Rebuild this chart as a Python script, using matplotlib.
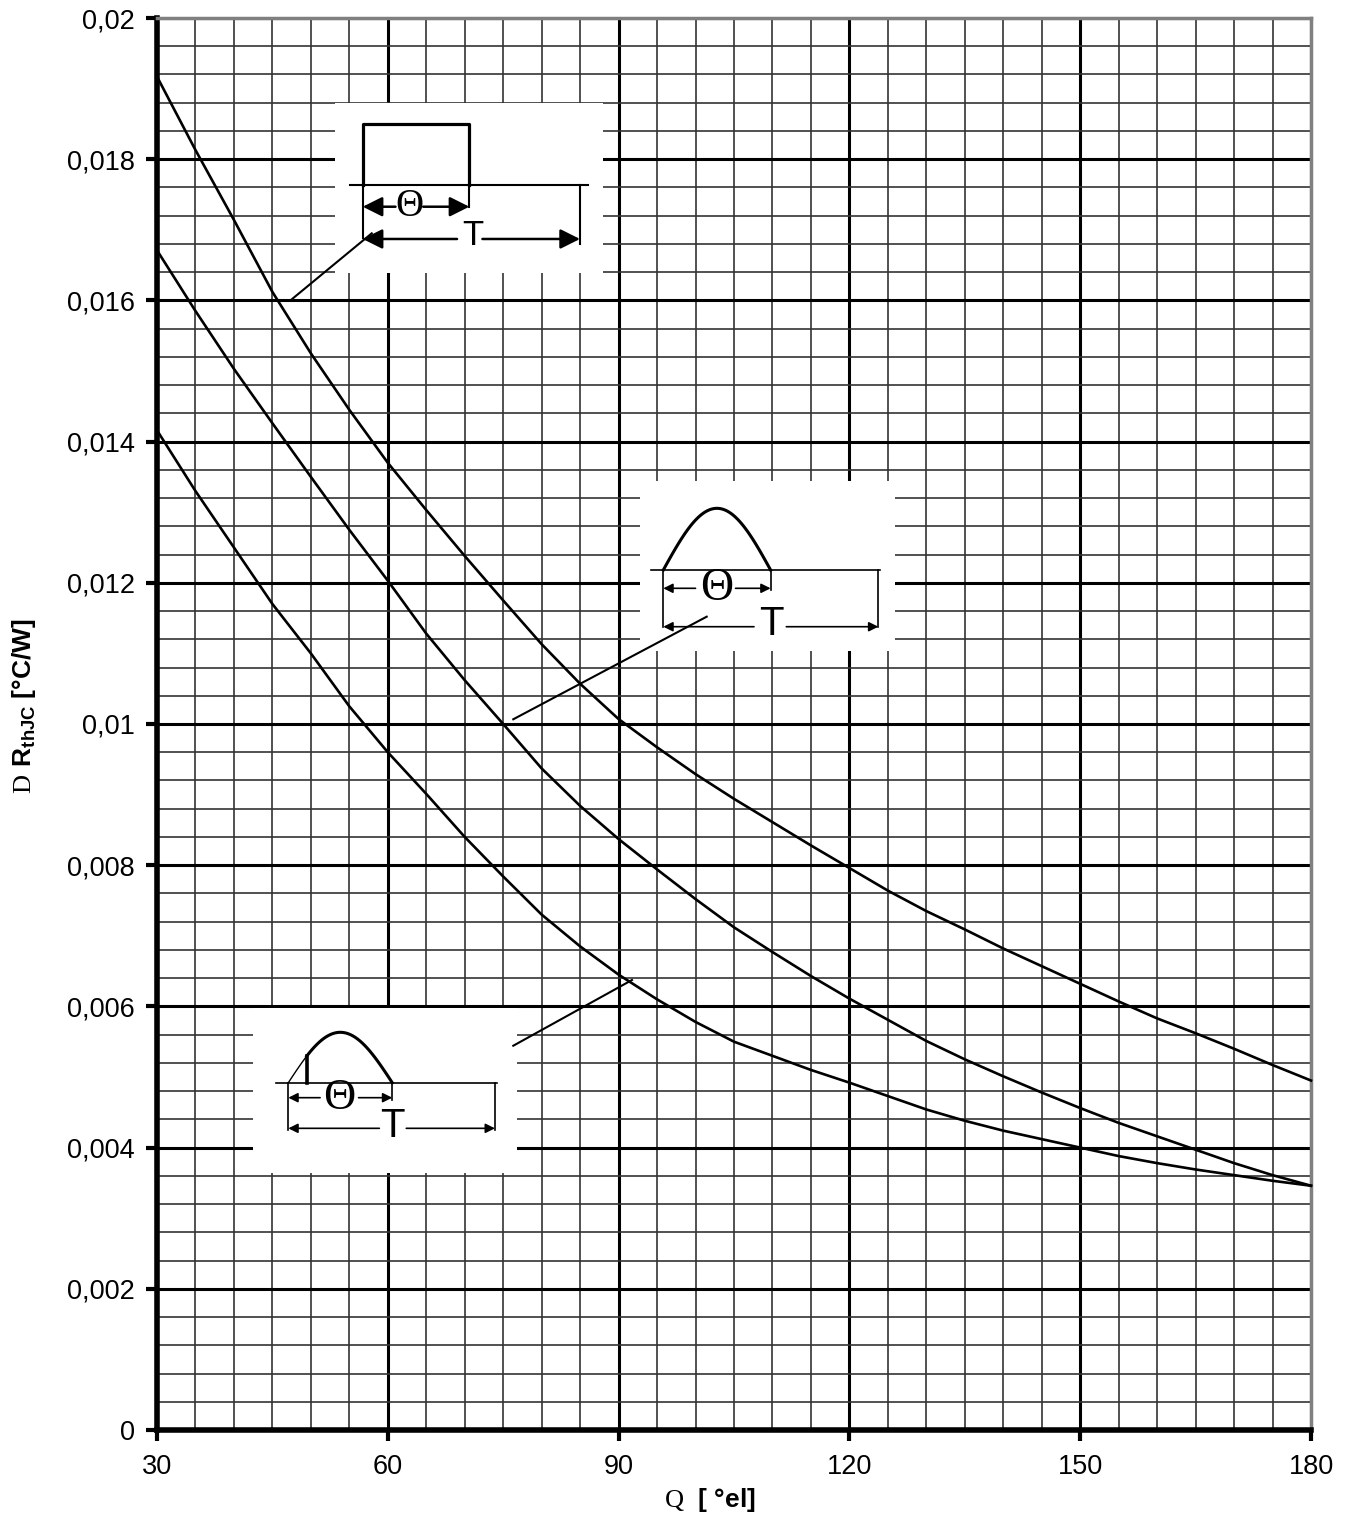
import numpy as np
import matplotlib
matplotlib.use("Agg")
import matplotlib.pyplot as plt
from matplotlib.patches import Rectangle
from matplotlib.ticker import FixedLocator, MultipleLocator, FixedFormatter

plt.rcParams["font.family"] = ["Liberation Sans", "DejaVu Sans"]
plt.rcParams["mathtext.fontset"] = "custom"
plt.rcParams["mathtext.rm"] = "Liberation Serif"
plt.rcParams["mathtext.bf"] = "Liberation Sans:bold"

# conduction angle [deg el]
theta = [30, 35, 40, 45, 50, 55, 60, 65, 70, 75, 80, 85, 90, 95, 100, 105,
         110, 115, 120, 125, 130, 135, 140, 145, 150, 155, 160, 165, 170, 175, 180]

# rectangular current
rth_rect = [0.01917, 0.01813, 0.01714, 0.01612, 0.01525, 0.01445, 0.0137, 0.01303,
            0.01238, 0.01175, 0.01113, 0.01057, 0.01007, 0.00967, 0.00929, 0.00894,
            0.00861, 0.00828, 0.00796, 0.00764, 0.00735, 0.00709, 0.00682, 0.00657,
            0.00632, 0.00607, 0.00583, 0.00562, 0.0054, 0.00517, 0.00495]
# sinusoidal current
rth_sine = [0.01671, 0.01585, 0.01503, 0.01426, 0.0135, 0.01275, 0.01203, 0.01128,
            0.01062, 0.0100, 0.00937, 0.00884, 0.00837, 0.00794, 0.00752, 0.00712,
            0.00677, 0.00643, 0.00611, 0.00581, 0.00551, 0.00525, 0.00501, 0.00478,
            0.00456, 0.00435, 0.00416, 0.00397, 0.00378, 0.00361, 0.00346]
# phase controlled sine
rth_phase = [0.01416, 0.0133, 0.0125, 0.0117, 0.0110, 0.01025, 0.0096, 0.00901,
             0.0084, 0.00784, 0.0073, 0.00685, 0.00645, 0.0061, 0.00578, 0.0055,
             0.0053, 0.0051, 0.00492, 0.00473, 0.00454, 0.00438, 0.00424, 0.00412,
             0.0040, 0.00388, 0.00378, 0.00369, 0.00361, 0.00353, 0.00346]

x_ticks = [30, 60, 90, 120, 150, 180]
y_ticks = [0, 0.002, 0.004, 0.006, 0.008, 0.01, 0.012, 0.014, 0.016, 0.018, 0.02]
y_labels = ["0", "0,002", "0,004", "0,006", "0,008", "0,01", "0,012",
            "0,014", "0,016", "0,018", "0,02"]

fig = plt.figure(figsize=(13.53, 15.33), dpi=100)
ax = fig.add_axes([157 / 1353, 1 - 1430 / 1533, 1154 / 1353, 1412 / 1533])

ax.set_xlim(30, 180)
ax.set_ylim(0, 0.02)
ax.xaxis.set_major_locator(FixedLocator(x_ticks))
ax.xaxis.set_minor_locator(MultipleLocator(5))
ax.yaxis.set_major_locator(FixedLocator(y_ticks))
ax.yaxis.set_major_formatter(FixedFormatter(y_labels))
ax.yaxis.set_minor_locator(MultipleLocator(0.0004))
ax.set_axisbelow(True)
ax.grid(which="major", color="black", lw=2.2)
ax.grid(which="minor", color="#333333", lw=1.2)

ax.tick_params(which="major", direction="out", length=8, width=3,
               labelsize=19.5, color="black")
ax.tick_params(axis="x", which="major", pad=9)
ax.tick_params(axis="y", which="major", pad=8)
ax.tick_params(which="minor", length=0)
ax.tick_params(top=False, right=False)

for side in ["left", "bottom"]:
    ax.spines[side].set_linewidth(4)
    ax.spines[side].set_color("black")
for side in ["top", "right"]:
    ax.spines[side].set_linewidth(2.5)
    ax.spines[side].set_color("#808080")

for series in [rth_rect, rth_sine, rth_phase]:
    ax.plot(theta, series, color="black", lw=1.9, zorder=4, clip_on=False)


def dim_arrow(x0, x1, y, gap0, gap1, scale, lw):
    for tip, tail in [(x0, gap0), (x1, gap1)]:
        ax.annotate("", xy=(tip, y), xytext=(tail, y),
                    arrowprops=dict(arrowstyle="-|>", color="black", lw=lw,
                                    mutation_scale=scale, shrinkA=0, shrinkB=0),
                    zorder=5)


# inset 1: rectangular pulse
ax.add_patch(Rectangle((53.1, 0.01639), 34.9, 0.00241, facecolor="white",
                       edgecolor="none", zorder=1))
ax.plot([56.74, 56.74, 70.6, 70.6], [0.017635, 0.018494, 0.018494, 0.017635],
        color="black", lw=2.3, zorder=5)
ax.plot([55.09, 85.98], [0.017635, 0.017635], color="black", lw=1.5, zorder=5)
ax.plot([56.74, 56.74], [0.017635, 0.01688], color="black", lw=1.5, zorder=5)
ax.plot([70.6, 70.6], [0.017635, 0.01732], color="black", lw=1.5, zorder=5)
ax.plot([84.98, 84.98], [0.017635, 0.0168], color="black", lw=1.5, zorder=5)
dim_arrow(56.74, 70.6, 0.017327, 61.0, 64.6, 30, 1.8)
dim_arrow(56.74, 84.98, 0.01687, 69.0, 72.3, 30, 1.8)
ax.text(62.8, 0.017327, "\u0398", fontsize=28, family="Liberation Serif",
        ha="center", va="center", zorder=5)
ax.text(71.1, 0.01692, "T", fontsize=25, ha="center", va="center", zorder=5)
ax.plot([47.51, 57.91], [0.016015, 0.01695], color="black", lw=1.5, zorder=5)

# inset 2: half sine
ax.add_patch(Rectangle((92.79, 0.011034), 33.14, 0.002408, facecolor="white",
                       edgecolor="none", zorder=1))
xs = np.linspace(95.81, 109.76, 60)
ax.plot(xs, 0.012181 + 0.000874 * np.sin(np.pi * (xs - 95.81) / (109.76 - 95.81)),
        color="black", lw=2.2, zorder=5)
ax.plot([94.17, 123.98], [0.012181, 0.012181], color="black", lw=1.2, zorder=5)
ax.plot([95.81, 95.81], [0.012181, 0.01137], color="black", lw=1.2, zorder=5)
ax.plot([109.76, 109.76], [0.012181, 0.011898], color="black", lw=1.2, zorder=5)
ax.plot([123.76, 123.76], [0.012181, 0.01137], color="black", lw=1.2, zorder=5)
dim_arrow(95.81, 109.76, 0.011922, 100.0, 105.2, 14, 1.2)
dim_arrow(95.81, 123.76, 0.011378, 107.6, 111.8, 14, 1.2)
ax.text(102.75, 0.011922, "\u0398", fontsize=33, family="Liberation Serif",
        ha="center", va="center", zorder=5)
ax.text(109.9, 0.011415, "T", fontsize=29, ha="center", va="center", zorder=5)
ax.plot([76.31, 101.45], [0.010067, 0.01152], color="black", lw=1.5, zorder=5)

# inset 3: phase controlled half sine
ax.add_patch(Rectangle((42.44, 0.00364), 34.32, 0.002337, facecolor="white",
                       edgecolor="none", zorder=1))
a, b, fire = 47.07, 60.58, 49.46
xs_thin = np.linspace(a, fire, 15)
xs_thick = np.linspace(fire, b, 60)
ax.plot(xs_thin, 0.004919 + 0.000714 * np.sin(np.pi * (xs_thin - a) / (b - a)),
        color="black", lw=1.0, zorder=5)
ax.plot(xs_thick, 0.004919 + 0.000714 * np.sin(np.pi * (xs_thick - a) / (b - a)),
        color="black", lw=2.2, zorder=5)
ax.plot([fire, fire], [0.004919, 0.004919 + 0.000714 * np.sin(np.pi * (fire - a) / (b - a))],
        color="black", lw=2.6, zorder=5)
ax.plot([45.47, 74.16], [0.004919, 0.004919], color="black", lw=1.2, zorder=5)
ax.plot([a, a], [0.004919, 0.004249], color="black", lw=1.2, zorder=5)
ax.plot([b, b], [0.004919, 0.004674], color="black", lw=1.2, zorder=5)
ax.plot([73.93, 73.93], [0.004919, 0.004249], color="black", lw=1.2, zorder=5)
dim_arrow(a, b, 0.004707, 51.2, 56.2, 14, 1.2)
dim_arrow(a, 73.93, 0.004273, 58.9, 62.4, 14, 1.2)
ax.text(53.7, 0.004707, "\u0398", fontsize=32, family="Liberation Serif",
        ha="center", va="center", zorder=5)
ax.text(60.64, 0.004305, "T", fontsize=29, ha="center", va="center", zorder=5)
ax.plot([76.31, 91.74], [0.005443, 0.006374], color="black", lw=1.5, zorder=5)

fig.text(710 / 1353, 1 - 1500 / 1533, r"$\mathrm{Q}$  [ °el]", fontsize=19,
         fontweight="bold", ha="center", va="center")
fig.text(24 / 1353, 1 - 706 / 1533, r"$\mathrm{D}\ \mathbf{R_{thJC}}$ [°C/W]",
         fontsize=19, fontweight="bold", rotation=90, ha="center", va="center")

fig.savefig("out.png", dpi=100, facecolor="white")
